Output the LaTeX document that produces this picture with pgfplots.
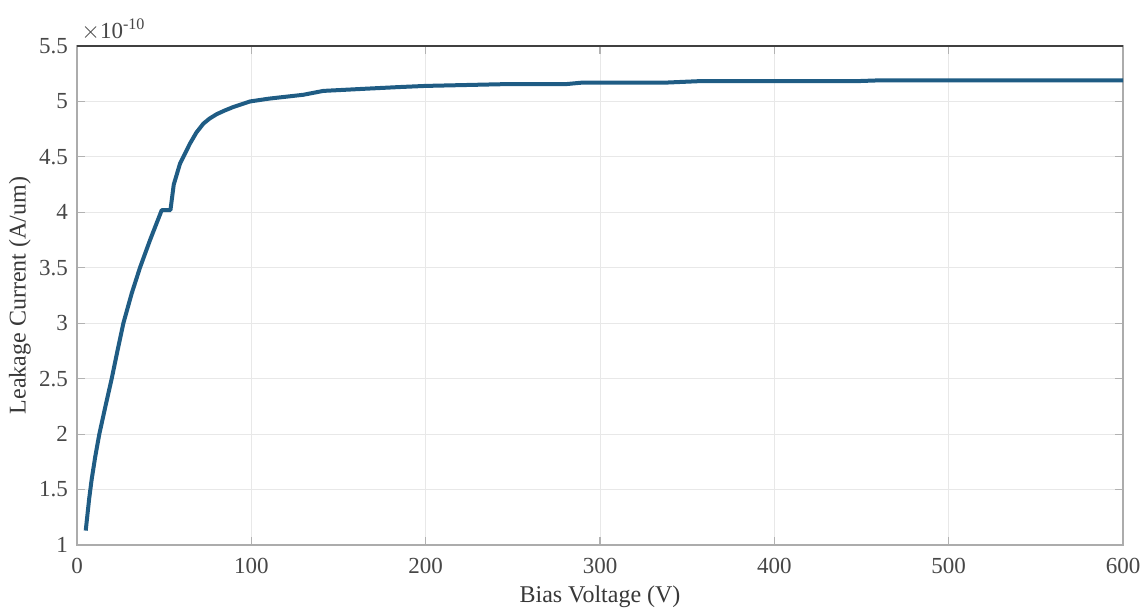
\documentclass[border=0pt]{standalone}
\usepackage{pgfplots}
\pgfplotsset{compat=1.18}
\usepackage{fontspec}
\setmainfont{Liberation Serif}
\definecolor{curve}{RGB}{31,92,132}
\begin{document}
\begin{tikzpicture}[x=1pt,y=1pt]
\useasboundingbox (-38.5,-32.5) rectangle (533.5,272.5);
\begin{axis}[
  at={(0,0)}, anchor=origin,
  scale only axis,
  width=523pt, height=249.5pt,
  xmin=0, xmax=600, ymin=1, ymax=5.5,
  xtick={0,100,...,600},
  ytick={1,1.5,...,5.5},
  yticklabels={1,1.5,2,2.5,3,3.5,4,4.5,5,5.5},
  /pgf/number format/assume math mode=true,
  tick label style={font=\fontsize{11.5}{13}\selectfont, text=black!72},
  xticklabel style={yshift=-3pt},
  yticklabel style={xshift=-1pt},
  label style={font=\fontsize{12}{14}\selectfont, text=black!78},
  xlabel={Bias Voltage (V)},
  ylabel={Leakage Current (A/um)},
  xlabel style={at={(axis description cs:0.5,0)}, anchor=center, yshift=-26pt},
  ylabel style={at={(axis description cs:0,0.5)}, anchor=center, yshift=28.5pt},
  grid=major,
  major grid style={gray!18, line width=0.5pt},
  axis line style={gray!65, line width=0.6pt},
  tick style={gray!60, line width=0.6pt},
  tick align=inside,
  major tick length=4pt,
  clip=false,
]
\addplot[curve, line width=2pt, line join=round] coordinates {
(5,1.13) (7,1.42) (8.4,1.59) (10.5,1.80) (12.8,2.0) (16.3,2.25) (19.9,2.5)
(23.2,2.75) (26.6,3.0) (31.4,3.27) (36.1,3.5) (41.9,3.75) (48.6,4.02) (53.6,4.02)
(55.5,4.25) (59.1,4.44) (64.8,4.62) (68.5,4.72) (72.5,4.80) (76,4.845) (80.1,4.885)
(85,4.92) (89.7,4.95) (99.3,5.0) (110,5.025) (118.4,5.04) (129.8,5.06) (141.3,5.095) (166,5.115)
(185.3,5.13) (200,5.14) (242.7,5.155) (281,5.157) (290,5.17) (338,5.17) (357,5.183)
(386,5.183) (449,5.184) (460,5.19) (600,5.19)
};
\end{axis}
\draw[black!75, line width=0.7pt] (0,249.5) -- (523,249.5);
\node[anchor=south west, font=\fontsize{11.5}{13}\selectfont, text=black!72, inner sep=0pt] at (2,252) {$\times$10\textsuperscript{-10}};
\end{tikzpicture}
\end{document}
